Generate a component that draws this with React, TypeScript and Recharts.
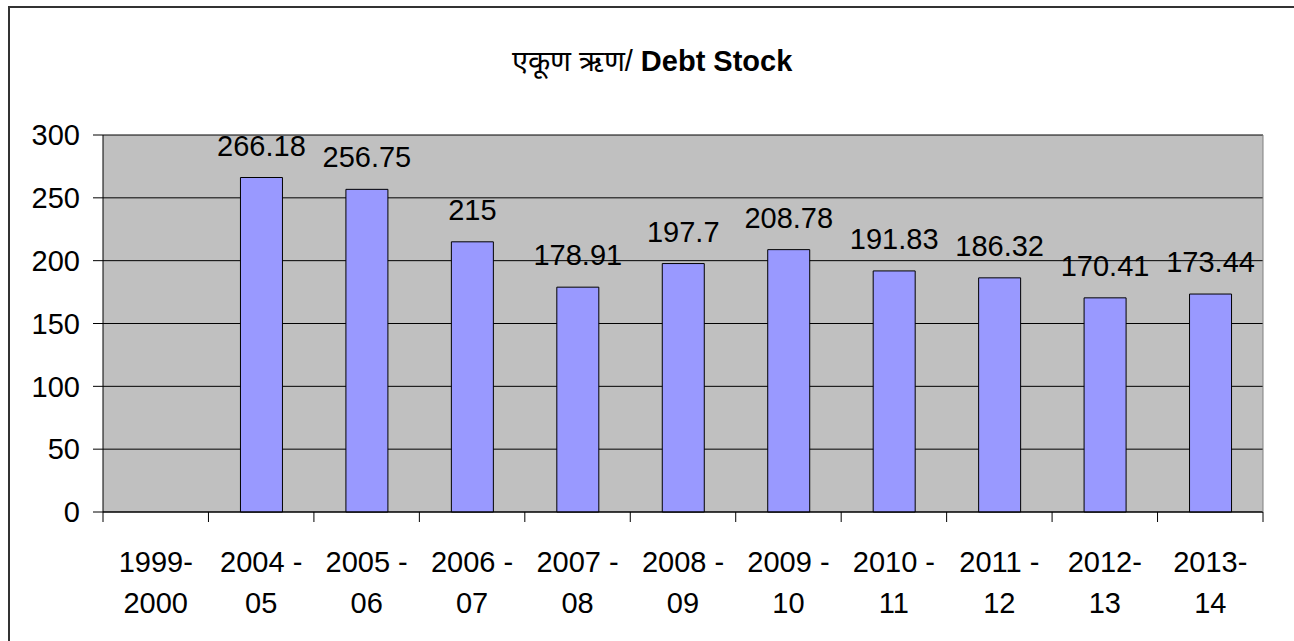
import { BarChart, Bar, XAxis, YAxis, CartesianGrid, LabelList } from 'recharts';

const categories = [
  '1999-\n2000',
  '2004 -\n05',
  '2005 -\n06',
  '2006 -\n07',
  '2007 -\n08',
  '2008 -\n09',
  '2009 -\n10',
  '2010 -\n11',
  '2011 -\n12',
  '2012-\n13',
  '2013-\n14',
];

const debtStock = [null, 266.18, 256.75, 215, 178.91, 197.7, 208.78, 191.83, 186.32, 170.41, 173.44];

const yTicks = [0, 50, 100, 150, 200, 250, 300];

const data = categories.map((c, i) => ({ period: c, value: debtStock[i] }));

const FONT = '"Liberation Sans", Arial, sans-serif';
const CHART_W = 1284;
const CHART_H = 633;
const MARGIN = { top: 127, right: 0, left: 0, bottom: 0 };
const Y_W = 93;
const RIGHT_W = 31;
const plotW = CHART_W - Y_W - RIGHT_W;
const band = plotW / categories.length;

const CategoryTick = (props: any) => {
  const { x, y, payload, index } = props;
  const lines = String(payload.value).split('\n');
  return (
    <g>
      <line x1={x - band / 2} x2={x - band / 2} y1={y} y2={y + 10} stroke="#000" />
      {index === categories.length - 1 && (
        <line x1={x + band / 2} x2={x + band / 2} y1={y} y2={y + 10} stroke="#000" />
      )}
      {lines.map((l: string, i: number) => (
        <text key={i} x={x} y={y + 60 + i * 41} textAnchor="middle" fontSize={29} fill="#000" fontFamily={FONT}>
          {l}
        </text>
      ))}
    </g>
  );
};

export default function App() {
  return (
    <div
      style={{
        position: 'absolute',
        left: 8,
        top: 6,
        width: CHART_W,
        height: CHART_H,
        borderLeft: '2px solid #333',
        borderTop: '2px solid #333',
        background: '#fff',
        fontFamily: FONT,
      }}
    >
      <div
        style={{
          position: 'absolute',
          top: 32,
          left: 0,
          width: CHART_W,
          textAlign: 'center',
          fontSize: 29,
          color: '#000',
        }}
      >
        एकूण ऋण/ <b>Debt Stock</b>
      </div>
      <BarChart width={CHART_W} height={CHART_H} data={data} margin={MARGIN} barSize={42}>
        <CartesianGrid vertical={false} stroke="#000" fill="#C0C0C0" fillOpacity={1} />
        <XAxis
          dataKey="period"
          height={129}
          axisLine={{ stroke: '#000' }}
          tickLine={false}
          tickSize={0}
          tickMargin={0}
          interval={0}
          tick={<CategoryTick />}
        />
        <YAxis
          width={Y_W}
          domain={[0, 300]}
          ticks={yTicks}
          interval={0}
          axisLine={{ stroke: '#000' }}
          tickLine={{ stroke: '#000' }}
          tickSize={10}
          tickMargin={13}
          tick={{ fontSize: 29, fill: '#000', fontFamily: FONT }}
        />
        <YAxis
          yAxisId="r"
          orientation="right"
          width={RIGHT_W}
          domain={[0, 300]}
          tick={false}
          tickLine={false}
          axisLine={{ stroke: '#808080' }}
        />
        <Bar dataKey="value" fill="#9999FF" stroke="#000" strokeWidth={1} isAnimationActive={false}>
          <LabelList
            dataKey="value"
            position="top"
            offset={22}
            fontSize={29}
            fill="#000"
            fontFamily={FONT}
            formatter={(v: any) => (v == null ? '' : String(v))}
          />
        </Bar>
      </BarChart>
    </div>
  );
}
